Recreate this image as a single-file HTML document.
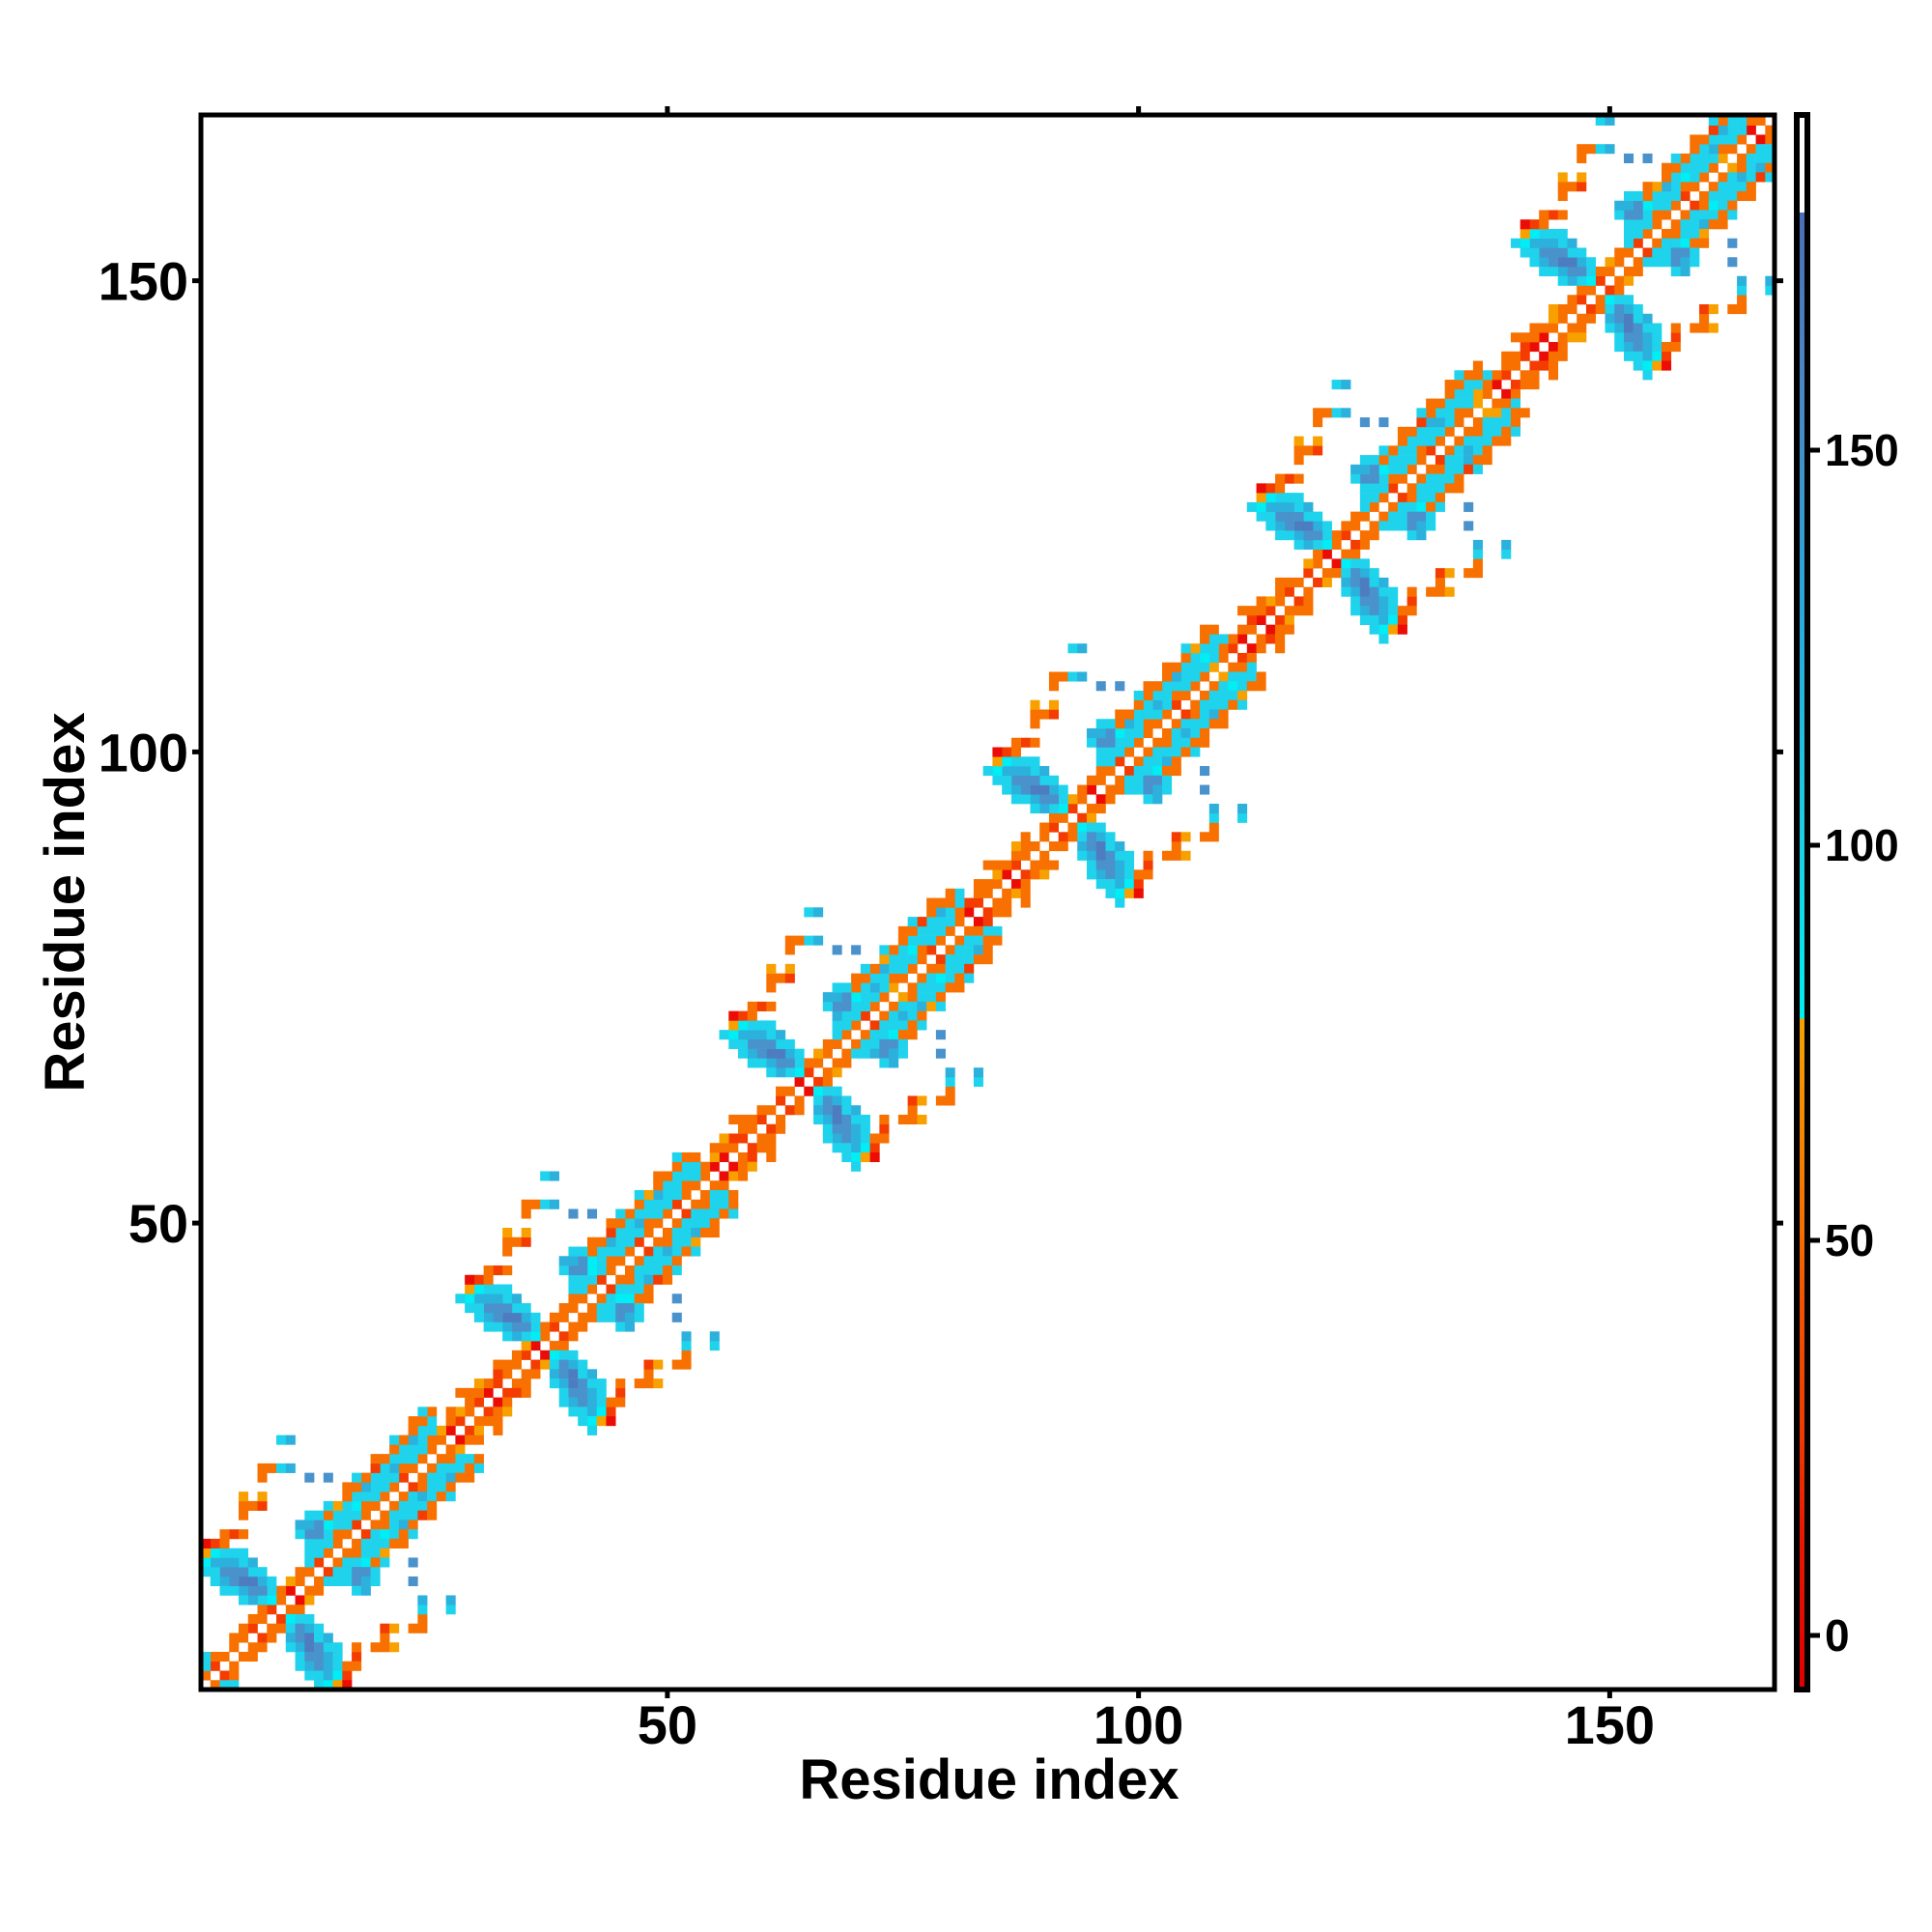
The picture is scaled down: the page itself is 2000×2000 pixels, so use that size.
<!DOCTYPE html>
<html><head><meta charset="utf-8"><style>
html,body{margin:0;padding:0;background:#fff;}
svg{display:block;font-family:"Liberation Sans",Arial,sans-serif;font-weight:bold;}
</style></head><body>
<svg id="chart" width="2000" height="2000" viewBox="0 0 2000 2000" xmlns="http://www.w3.org/2000/svg">
<defs>
<linearGradient id="cbgrad" x1="0" y1="0" x2="0" y2="1">
<stop offset="0" stop-color="#ffffff"/><stop offset="0.062" stop-color="#ffffff"/>
<stop offset="0.062" stop-color="#4a6fb8"/><stop offset="0.165" stop-color="#4a86c6"/>
<stop offset="0.313" stop-color="#2aa8d8"/><stop offset="0.463" stop-color="#1ad0e8"/>
<stop offset="0.574" stop-color="#00eef0"/><stop offset="0.574" stop-color="#f5a300"/>
<stop offset="0.714" stop-color="#f46c00"/><stop offset="0.75" stop-color="#f25400"/>
<stop offset="0.839" stop-color="#f03a00"/><stop offset="0.9" stop-color="#e81a00"/>
<stop offset="1" stop-color="#e00000"/>
</linearGradient>
</defs>
<g id="cells"></g>
<rect x="208" y="119" width="1629" height="1630" fill="none" stroke="#000" stroke-width="5"/>
<g id="axes"></g>
<rect x="1860" y="119" width="11" height="1630" fill="url(#cbgrad)"/>
<rect x="1860" y="119" width="11" height="1630" fill="none" stroke="#000" stroke-width="6"/>
<g id="cbaxis"></g>
<text x="1024" y="1862" font-size="58" text-anchor="middle">Residue index</text>
<text transform="translate(87,934) rotate(-90)" font-size="58" text-anchor="middle">Residue index</text>
</svg>
<script>
const N = 167;
const xTicks = [50, 100, 150];
const yTicks = [50, 100, 150];
const cbTicks = [0, 50, 100, 150];
const centers = [9, 37, 65, 93, 121, 149];
// lane k: color code of cell (i, i+k), i = 1..166
const lane1 = ["oRooo",
 "RoRorooRoooRooooRoooorRoRrRo","oRroRooooRoooRoooRooorroRoRo","RorRoooooRooaoooRooorRoorRoo",
 "oRoRorooRoooooRoooaoRrorRoRo","RoroRooooRoooRooooaorRoRrroo","oRoRoooRooooRoooaooro"].join("");
const lane2 = ["co.oo",
 "oo.oaocccoccocccoccoaoaoooRo","oa.ooooccc0cccocccocoaoRooo.".replace("0","o"),"o..oaoccocccoccocccoRooaooo.",
 "oo.aoooccccoccoccccoooRoaoo.","ao.ooocccoccocccocaooooRooao","oo.oaocccoccocccocco"].join("");
const lane3 = ["c....",
 "......cccccCccclcccc.o.oa.o.","......ccCcccclcccccc.oa.o...","......cccclcccCccccc.o.o.ao.",
 "......cccccclccccCcc..oo.o..","......cCcccccclccccc.o.oo.a.","......ccccccCcclcccc"].join("");
const lane4 = [".....",
 "......clcccclcccclcc..o.....","......cccclcccclccco...o....","......lcccclcccccloc..o.....",
 "......ccclcccclcccc..o......","......clccccclcccco...o.....","......cccclccccclccc"].join("");
const lane5 = [".....",
 "......oooaoooRoooooo........","......ooooRoooaoooo.........","......oooooaoooRooo.........",
 "......oRooooooooaoo.........","......ooooooRoooooo.........","......oooaoooooRoooo"].join("");
const lane6 = [".....",
 "......o.c.oc.o.c.oc.........","......c.o.oc.c.o.c..........","......o.oc.c.oc.o...........",
 "......c.o.co.o.c.o..........","......o.c.o.co.oc...........","......c.o.oc.o.c.o.."].join("");
const lanes = [lane1, lane2, lane3, lane4, lane5, lane6];
// blob cells relative to turn centre: [dx, dy, code] (mirrored about diagonal)
const blobDx = [-1,-1,-2,-2,-2,-3,-3,-3,-3,-4,-4,-4,-4,-5,-5,-5,-5,-6,-6,-6,-6,-7,-7,-7,-8,-8,-7,-8,-6,-5,-4,-6,
 -4,-4,-3,-2,-4,-2,-2,-2,-1,0,1,0,1,3,5, 2,3,4,2,3,4,5,4,5,3,4,
 -4,-6,-7,-8,-1,-2,-3,-4,-5,-9];
const blobDy = [1,2,1,2,3,1,2,3,4,2,3,4,5,2,3,4,5,3,4,5,6,4,5,6,5,6,7,7,7,8,8,8,
 10,11,11,11,12,12,14,15,15,15,15,18,18,14,14, 8,8,8,9,9,9,9,7,7,10,10,
 1,2,3,4,3,4,5,6,6,5];
const blobCode = ["C","c","c","b","l","l","b","B","c","l","B","b","c","c","b","b","l","l","b","l","c","c","l","C","C","a","R","r","o","R","o","o",
 "o","o","o","R","a","a","o","o","o","c","l","c","l","b","b", "c","b","b","l","l","b","C","c","c","c","c",
 "c","c","c","c","c","c","l","c","c","c"];
const colors = {r:"#ec0c06",R:"#f43c00",o:"#f77000",a:"#f8a000",C:"#00eef5",c:"#1fd3ec",l:"#2cb0dc",b:"#4a92cb",B:"#4d7dc0"};

const W = 9.755, X0 = 208, Y1 = 1749;
function xl(r){ return X0 + (r - 1) * W; }
function yt(r){ return Y1 - r * W; }
function xc(r){ return X0 + (r - 0.5) * W; }
function yc(r){ return Y1 - (r - 0.5) * W; }
function cbY(v){ return 1693 - v * 8.18; }

const grid = {};
function put(i, j, code){ if(i<1||j<1||i>N||j>N||code==="."||!code) return; grid[i+","+j]=code; }
lanes.forEach((ln, k) => {
  for (let p = 0; p < ln.length; p++) { const i = p + 1, j = i + k + 1; put(i, j, ln[p]); put(j, i, ln[p]); }
});
centers.forEach(c => {
  for (let q = 0; q < blobDx.length; q++) {
    put(c + blobDx[q], c + blobDy[q], blobCode[q]);
    put(c + blobDy[q], c + blobDx[q], blobCode[q]);
  }
});
const NS = "http://www.w3.org/2000/svg";
const g = document.getElementById("cells");
Object.keys(grid).forEach(key => {
  const [i, j] = key.split(",").map(Number);
  const r = document.createElementNS(NS, "rect");
  r.setAttribute("x", xl(i).toFixed(2));
  r.setAttribute("y", yt(j).toFixed(2));
  r.setAttribute("width", (W + 0.3).toFixed(2));
  r.setAttribute("height", (W + 0.3).toFixed(2));
  r.setAttribute("fill", colors[grid[key]]);
  
  
  g.appendChild(r);
});
const ax = document.getElementById("axes");
function line(parent, x1, y1, x2, y2, w, name){
  const l = document.createElementNS(NS, "line");
  l.setAttribute("x1", x1); l.setAttribute("y1", y1); l.setAttribute("x2", x2); l.setAttribute("y2", y2);
  l.setAttribute("stroke", "#000"); l.setAttribute("stroke-width", w);
  
  
  parent.appendChild(l);
}
function text(parent, x, y, s, size, anchor, name){
  const t = document.createElementNS(NS, "text");
  t.setAttribute("x", x); t.setAttribute("y", y); t.setAttribute("font-size", size);
  t.setAttribute("text-anchor", anchor); t.textContent = s;
  
  
  parent.appendChild(t);
}
xTicks.forEach(v => {
  const x = xc(v);
  line(ax, x, 1749, x, 1758, 5, "x-tick");
  line(ax, x, 110, x, 119, 5, "x-top-tick");
  text(ax, x, 1805, String(v), 56, "middle", "x-tick-label");
});
yTicks.forEach(v => {
  const y = yc(v);
  line(ax, 199, y, 208, y, 5, "y-tick");
  line(ax, 1837, y, 1846, y, 5, "y-right-tick");
  text(ax, 195, y + 20, String(v), 56, "end", "y-tick-label");
});
const cb = document.getElementById("cbaxis");
cbTicks.forEach(v => {
  const y = cbY(v);
  line(cb, 1874, y, 1884, y, 5, "colorbar-tick");
  text(cb, 1889, y + 16, String(v), 46, "start", "colorbar-tick-label");
});
</script>
</body></html>
